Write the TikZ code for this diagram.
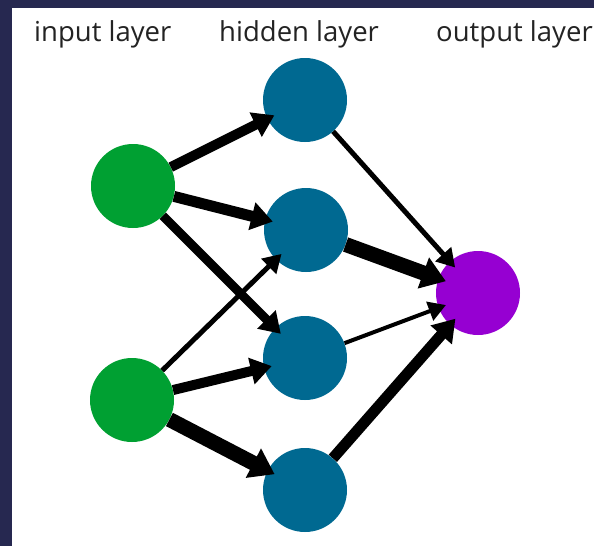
\documentclass[tikz,border=0pt]{standalone}
\usepackage{fontspec}
\setmainfont{Open Sans}
\usetikzlibrary{arrows.meta}
\definecolor{navy}{RGB}{38,40,80}
\definecolor{ingreen}{RGB}{0,160,50}
\definecolor{hidteal}{RGB}{0,105,145}
\definecolor{outpurple}{RGB}{150,0,210}
\definecolor{labelgray}{RGB}{35,35,35}
\tikzset{
  neuron/.style={circle, minimum size=84pt, inner sep=0pt, draw=none},
  inneuron/.style={neuron, fill=ingreen},
  hidneuron/.style={neuron, fill=hidteal},
  outneuron/.style={neuron, fill=outpurple},
  layerlabel/.style={anchor=base west, inner sep=0pt, font=\fontsize{27.5pt}{32pt}\selectfont, text=labelgray},
  conn/.style={draw=black, line width=#1, shorten >=-8pt,
    -{Triangle[length=15pt 0.6, width=15pt 1.1]}},
}
\begin{document}
\begin{tikzpicture}[x=1pt,y=-1pt]
\useasboundingbox (0,0) rectangle (594,546);
\fill[navy] (0,0) rectangle (594,546);
\fill[white] (12,8) rectangle (594,546);
\begin{scope}
\clip (12,8) rectangle (594,546);
\node[layerlabel] (lin) at (34,41) {input layer};
\node[layerlabel] (lhid) at (219,41) {hidden layer};
\node[layerlabel] (lout) at (436,41) {output layer};
\end{scope}
\node[inneuron] (i1) at (133,186) {};
\node[inneuron] (i2) at (132,400) {};
\node[hidneuron] (h1) at (305,100) {};
\node[hidneuron] (h2) at (306,230) {};
\node[hidneuron] (h3) at (305,358) {};
\node[hidneuron] (h4) at (305,490) {};
\node[outneuron] (o) at (478,293) {};
\draw[conn=10pt] (i1) -- (h1);
\draw[conn=11pt] (i1) -- (h2);
\draw[conn=9pt] (i1) -- (h3);
\draw[conn=5pt] (i2) -- (h2);
\draw[conn=10pt] (i2) -- (h3);
\draw[conn=15pt] (i2) -- (h4);
\draw[conn=5pt] (h1) -- (o);
\draw[conn=15pt] (h2) -- (o);
\draw[conn=4pt] (h3) -- (o);
\draw[conn=11pt] (h4) -- (o);
\end{tikzpicture}
\end{document}
